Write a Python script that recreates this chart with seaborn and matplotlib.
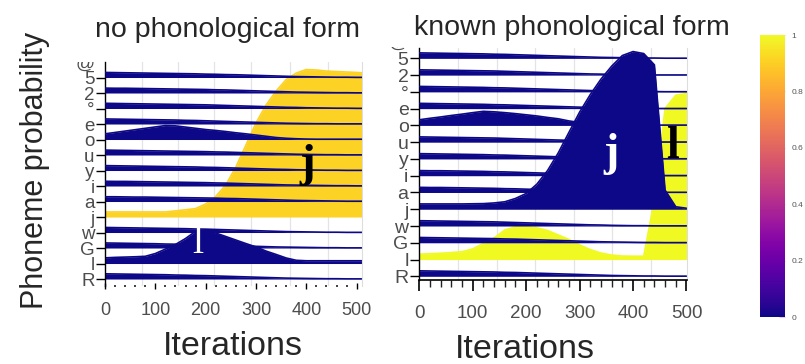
import numpy as np
import matplotlib
matplotlib.use("Agg")
import matplotlib.pyplot as plt
import seaborn as sns
from matplotlib.ticker import MultipleLocator
from matplotlib.transforms import Bbox

# ---------------- data ----------------
# phoneme rows, bottom -> top
PHONEMES = ["R", "l", "G", "w", "j", "a", "i", "y", "u", "o", "e", "°", "2", "5"]
TOP_CUT_LABEL = "@"

ITER_LEFT = [0, 20, 40, 60, 80, 100, 120, 140, 160, 180, 200, 220, 240, 260,
             280, 300, 320, 340, 360, 380, 400, 420, 440, 460, 480, 500, 510]
ITER_RIGHT = [0, 20, 40, 60, 80, 100, 120, 140, 160, 180, 200, 220, 240, 260,
              280, 300, 320, 340, 360, 380, 400, 420, 440, 460, 480, 500]

# "no phonological form" panel: probability of each phoneme over iterations
L_R = [.034,.033,.032,.031,.030,.029,.028,.026,.025,.023,.022,.020,.018,.016,.014,.012,.010,.008,.006,.005,.004,.003,.002,.002,.001,.001,.001]
L_l = [.037,.040,.042,.044,.047,.065,.094,.124,.163,.210,.218,.199,.176,.153,.130,.108,.081,.059,.036,.021,.018,.018,.018,.018,.018,.018,.018]
L_G = [.033,.032,.031,.030,.029,.028,.026,.025,.024,.022,.021,.019,.017,.015,.013,.011,.009,.007,.006,.005,.004,.003,.002,.002,.001,.001,.001]
L_w = [.033,.032,.031,.030,.029,.028,.027,.026,.025,.023,.022,.020,.018,.016,.014,.012,.010,.008,.006,.005,.004,.003,.002,.002,.001,.001,.001]
L_j = [.033,.033,.033,.033,.033,.033,.033,.040,.047,.055,.085,.134,.209,.326,.469,.613,.730,.821,.896,.938,.961,.958,.951,.948,.945,.942,.940]
L_a = [.031,.031,.030,.029,.029,.028,.027,.026,.025,.024,.023,.022,.020,.019,.017,.015,.013,.011,.009,.007,.006,.005,.004,.003,.002,.002,.002]
L_i = [.031,.030,.030,.029,.028,.027,.026,.025,.024,.023,.022,.020,.019,.017,.015,.013,.011,.009,.007,.006,.005,.004,.003,.002,.002,.001,.001]
L_y = [.032,.031,.030,.029,.028,.027,.026,.025,.024,.023,.021,.020,.018,.016,.014,.012,.010,.008,.007,.005,.004,.003,.002,.002,.001,.001,.001]
L_u = [.032,.031,.030,.029,.028,.027,.026,.025,.024,.023,.022,.020,.019,.017,.015,.013,.011,.009,.007,.005,.004,.003,.002,.002,.001,.001,.001]
L_o = [.037,.046,.055,.064,.073,.082,.091,.089,.081,.073,.065,.059,.052,.044,.037,.029,.021,.013,.008,.005,.003,.002,.002,.002,.002,.002,.002]
L_e = [.033,.032,.031,.030,.029,.028,.027,.026,.024,.023,.021,.019,.017,.015,.013,.011,.009,.007,.005,.004,.003,.002,.002,.001,.001,.001,.001]
L_deg = [.034,.033,.032,.031,.030,.029,.028,.027,.026,.025,.024,.022,.020,.018,.016,.014,.012,.010,.008,.007,.005,.004,.003,.002,.002,.001,.001]
L_2 = [.032,.031,.031,.030,.029,.028,.027,.026,.025,.024,.023,.021,.020,.018,.016,.014,.012,.010,.008,.006,.005,.004,.003,.002,.002,.001,.001]
L_5 = [.033,.032,.031,.030,.029,.028,.027,.026,.025,.024,.022,.021,.019,.018,.016,.014,.012,.010,.008,.006,.005,.004,.003,.002,.002,.001,.001]
LEFT_COLOR = [0, 0, 0, 0, 0.91, 0, 0, 0, 0, 0, 0, 0, 0, 0]

# "known phonological form" panel
R_R = [.033,.032,.031,.030,.029,.028,.027,.026,.024,.023,.021,.019,.017,.015,.013,.011,.009,.007,.005,.004,.003,.002,.002,.001,.001,.001]
R_l = [.032,.035,.038,.042,.047,.064,.097,.130,.178,.197,.198,.191,.175,.148,.121,.088,.060,.039,.027,.021,.020,.020,.360,.910,.990,1.000]
R_G = [.032,.031,.030,.029,.028,.027,.026,.025,.023,.022,.020,.018,.016,.014,.012,.010,.008,.006,.005,.004,.003,.002,.002,.001,.001,.001]
R_w = [.032,.031,.030,.029,.028,.027,.026,.025,.023,.021,.019,.017,.015,.013,.011,.009,.007,.006,.004,.003,.002,.002,.001,.001,.001,.001]
R_j = [.032,.032,.032,.032,.032,.033,.034,.038,.045,.065,.095,.151,.233,.339,.463,.585,.691,.784,.862,.926,.950,.938,.870,.115,.015,.006]
R_a = [.031,.030,.030,.029,.028,.027,.026,.025,.023,.022,.020,.018,.016,.014,.012,.010,.008,.006,.005,.004,.003,.002,.002,.001,.001,.001]
R_i = [.031,.030,.030,.029,.028,.027,.026,.024,.023,.021,.019,.017,.015,.013,.011,.009,.007,.006,.004,.003,.002,.002,.001,.001,.001,.001]
R_y = [.032,.031,.030,.029,.028,.027,.026,.024,.023,.021,.019,.017,.015,.013,.011,.009,.007,.005,.004,.003,.002,.002,.001,.001,.001,.001]
R_u = [.032,.031,.030,.029,.028,.027,.026,.025,.023,.021,.019,.017,.015,.013,.011,.009,.007,.005,.004,.003,.002,.002,.001,.001,.001,.001]
R_o = [.034,.043,.051,.060,.068,.077,.085,.082,.077,.071,.064,.057,.048,.040,.027,.018,.012,.008,.005,.004,.003,.002,.002,.002,.002,.002]
R_e = [.032,.031,.030,.029,.028,.027,.026,.024,.023,.021,.019,.017,.015,.013,.011,.009,.007,.006,.004,.003,.002,.002,.001,.001,.001,.001]
R_deg = [.033,.032,.031,.030,.029,.028,.027,.025,.024,.022,.020,.018,.016,.014,.012,.010,.008,.006,.005,.004,.003,.002,.002,.001,.001,.001]
R_2 = [.032,.031,.030,.029,.028,.027,.026,.025,.023,.021,.019,.017,.015,.013,.011,.009,.007,.006,.004,.003,.002,.002,.001,.001,.001,.001]
R_5 = [.033,.032,.031,.030,.029,.028,.027,.025,.024,.022,.020,.018,.016,.014,.012,.010,.008,.006,.005,.004,.003,.002,.002,.001,.001,.001]
RIGHT_COLOR = [0, 1.0, 0, 0, 0, 0, 0, 0, 0, 0, 0, 0, 0, 0]

TITLES = ["no phonological form", "known phonological form"]
XTICKS = [0, 100, 200, 300, 400, 500]
CBAR_TICKS = [0, 0.2, 0.4, 0.6, 0.8, 1]
CBAR_LABELS = ["0", "0.2", "0.4", "0.6", "0.8", "1"]

LEFT_SERIES = [L_R, L_l, L_G, L_w, L_j, L_a, L_i, L_y, L_u, L_o, L_e, L_deg, L_2, L_5]
RIGHT_SERIES = [R_R, R_l, R_G, R_w, R_j, R_a, R_i, R_y, R_u, R_o, R_e, R_deg, R_2, R_5]
for s in LEFT_SERIES:
    assert len(s) == len(ITER_LEFT)
for s in RIGHT_SERIES:
    assert len(s) == len(ITER_RIGHT)

# ---------------- style ----------------
sns.set_theme(style="white")
plt.rcParams["font.family"] = ["Liberation Sans", "DejaVu Sans"]

W, H = 805, 364
fig = plt.figure(figsize=(W / 100, H / 100), dpi=100)
fig.patch.set_facecolor("white")


def px_axes(x0, ytop, x1, ybot):
    return fig.add_axes([x0 / W, 1 - ybot / H, (x1 - x0) / W, (ybot - ytop) / H])


axL = px_axes(105, 61.7, 361.7, 286)
axR = px_axes(419.3, 48.3, 687, 280)
cax = px_axes(760, 35, 785, 317)

SCALE = 9.9   # ridge height (in rows) of probability 1
cmap = plt.get_cmap("plasma")
GRID_COLOR = "#E4E4E4"


def draw_panel(ax, iters, series, colors):
    x = np.asarray(iters, dtype=float)
    for k, vals in enumerate(series):
        top = k + np.asarray(vals) * SCALE
        c = cmap(colors[k])
        z = 2 + k * 0.1
        ax.fill_between(x, k, top, color=c, lw=0, zorder=z)
        sns.lineplot(x=x, y=top, ax=ax, color=c, lw=1.2, zorder=z + 0.05,
                     estimator=None, sort=False)
    ax.set_yticks(range(len(PHONEMES)))
    ax.set_yticklabels(PHONEMES)
    ax.set_xticks(XTICKS)
    ax.xaxis.set_minor_locator(MultipleLocator(20))
    ax.set_xlabel("")
    ax.set_ylabel("")
    ax.spines["top"].set_visible(False)
    ax.spines["right"].set_color("#DDDDDD")
    ax.spines["right"].set_linewidth(0.8)
    ax.spines["left"].set_color("black")
    ax.spines["left"].set_linewidth(1.0)


# left panel
draw_panel(axL, ITER_LEFT, LEFT_SERIES, LEFT_COLOR)
axL.set_xlim(0, 510)
axL.set_ylim(-0.45, 14.02)
for gx in [73, 146, 217, 291, 367, 444]:
    axL.axvline(gx, color=GRID_COLOR, lw=0.9, zorder=1)
axL.spines["bottom"].set_visible(False)
axL.tick_params(axis="y", left=True, length=6.5, width=1.0, color="black", pad=1,
                labelsize=13.5, labelcolor="#4D4D4D")
axL.tick_params(axis="x", which="major", bottom=True, direction="inout", length=4.5,
                width=1.0, color="black", pad=9, labelsize=13, labelcolor="#4D4D4D")
axL.tick_params(axis="x", which="minor", bottom=True, direction="inout", length=1.6,
                width=1.3, color="#333333")

# right panel
draw_panel(axR, ITER_RIGHT, RIGHT_SERIES, RIGHT_COLOR)
axR.set_xlim(0, 501)
axR.set_ylim(-0.22, 13.6)
for gx in [73, 145, 217, 289, 361, 433]:
    axR.axvline(gx, color=GRID_COLOR, lw=0.9, zorder=1)
axR.spines["bottom"].set_color("black")
axR.spines["bottom"].set_linewidth(1.2)
axR.tick_params(axis="y", left=True, length=6.7, width=1.0, color="black", pad=1,
                labelsize=14, labelcolor="#4D4D4D")
axR.tick_params(axis="x", which="major", bottom=True, direction="out", length=8,
                width=1.2, color="black", pad=10, labelsize=13.5, labelcolor="#4D4D4D")
axR.tick_params(axis="x", which="minor", bottom=True, direction="out", length=5,
                width=1.0, color="#222222")

# cut-off "@" label at the top of each panel
for ax, size, clip_top_px in [(axL, 13.5, 62), (axR, 14, 46.5)]:
    t = ax.annotate(TOP_CUT_LABEL, xy=(0, 14), xycoords=("axes fraction", "data"),
                    xytext=(-7.7, -1.5), textcoords="offset points", ha="right",
                    va="center", fontsize=size, color="#4D4D4D", annotation_clip=False)
    t.set_clip_on(True)
    t.set_clip_box(Bbox.from_extents(0, 0, W, H - clip_top_px))

# phoneme annotations inside the panels
axL.text(401, 7.35, "j", fontsize=34, fontweight="bold", family="Liberation Serif",
         color="black", ha="center", va="center", zorder=10)
axL.text(185, 2.3, "l", fontsize=29, family="Liberation Serif",
         color="white", ha="center", va="center", zorder=10)
axR.text(359, 7.3, "j", fontsize=33, fontweight="bold", family="Liberation Serif",
         color="white", ha="center", va="center", zorder=10)
axR.text(474, 7.7, "l", fontsize=33, fontweight="bold", family="Liberation Serif",
         color="black", ha="center", va="center", zorder=10)

# titles and axis labels
fig.text(227 / W, 1 - 37 / H, TITLES[0], fontsize=20.5, ha="center", va="baseline")
fig.text(572 / W, 1 - 35 / H, TITLES[1], fontsize=20.5, ha="center", va="baseline")
fig.text(35 / W, 1 - 170 / H, "Phoneme probability", fontsize=22, rotation=90,
         ha="center", va="center")
fig.text(233 / W, 1 - 355 / H, "Iterations", fontsize=24.5, ha="center", va="baseline")
fig.text(525 / W, 1 - 358 / H, "Iterations", fontsize=24.5, ha="center", va="baseline")

# colour bar
sm = matplotlib.cm.ScalarMappable(norm=plt.Normalize(0, 1), cmap=cmap)
cb = fig.colorbar(sm, cax=cax, ticks=CBAR_TICKS)
cb.set_ticklabels(CBAR_LABELS)
cb.outline.set_visible(False)
cax.tick_params(direction="in", length=4, width=0.8, color="#F4C6DA",
                labelsize=6, labelcolor="#555555", pad=4.5)

fig.savefig("out.png", dpi=100, facecolor="white")
